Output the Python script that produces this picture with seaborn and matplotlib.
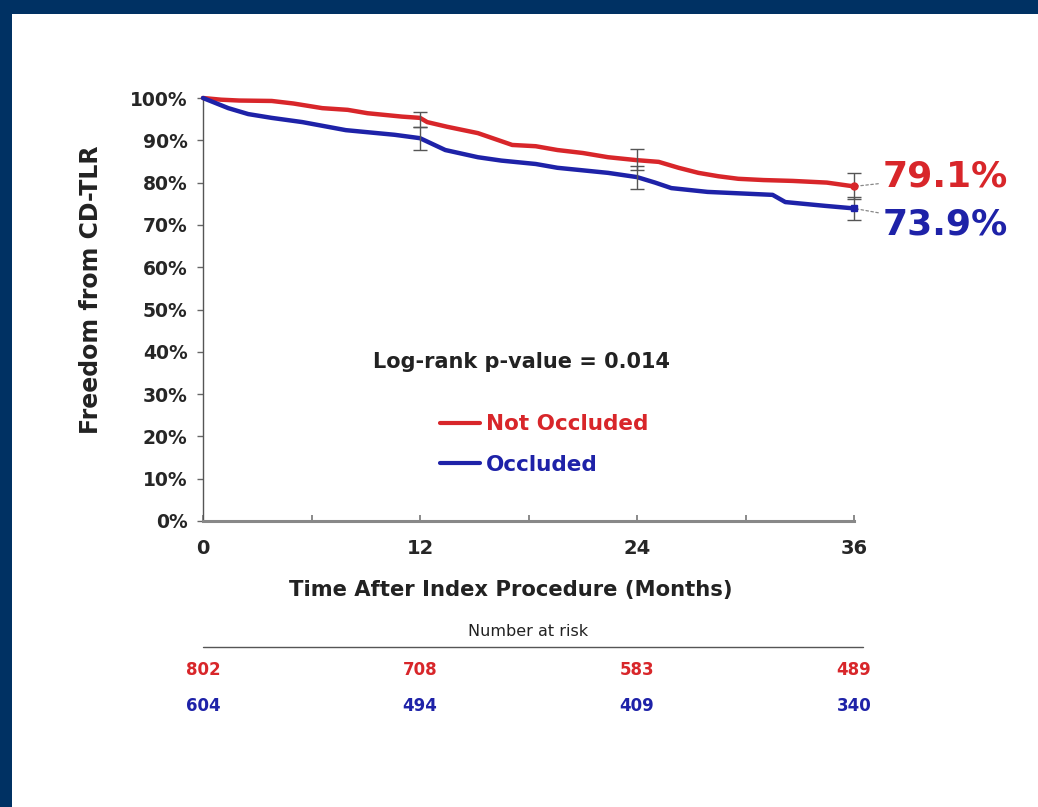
import matplotlib
matplotlib.use("Agg")
import matplotlib.pyplot as plt
from matplotlib.patches import Rectangle
from matplotlib.lines import Line2D
import numpy as np
import pandas as pd
import seaborn as sns

# Kaplan-Meier freedom from CD-TLR (%), by occlusion status
months_not_occluded = [0, 1, 2, 3.8, 5, 6.6, 8, 9.1, 11, 12, 12.4, 13.5, 15.2, 17.1,
                       18.4, 19.6, 21, 22.4, 24, 25.2, 26.3, 27.4, 28.5, 29.6, 31,
                       32.6, 34.5, 36]
surv_not_occluded = [100, 99.6, 99.4, 99.3, 98.7, 97.6, 97.2, 96.4, 95.6, 95.3, 94.3,
                     93.2, 91.7, 88.9, 88.6, 87.7, 87.0, 86.0, 85.3, 84.9, 83.5, 82.3,
                     81.5, 80.9, 80.6, 80.4, 80.0, 79.1]
months_occluded = [0, 1.4, 2.5, 3.8, 5.5, 7.9, 10.6, 12, 13.4, 15.2, 16.5, 18.4, 19.6,
                   22.4, 24, 25, 25.9, 27.9, 31.5, 32.2, 34.4, 36]
surv_occluded = [100, 97.6, 96.2, 95.3, 94.3, 92.4, 91.3, 90.5, 87.7, 86.0, 85.2, 84.4,
                 83.5, 82.3, 81.3, 80.0, 78.7, 77.8, 77.1, 75.4, 74.5, 73.9]

# 95% confidence intervals at the landmark times
ci_months = [12, 24, 36]
ci_not_occluded_lo = [93.2, 83.0, 76.2]
ci_not_occluded_hi = [96.7, 87.9, 82.2]
ci_occluded_lo = [87.7, 78.5, 71.1]
ci_occluded_hi = [93.2, 84.0, 76.7]

groups = ["Not Occluded", "Occluded"]
risk_months = [0, 12, 24, 36]
risk_not_occluded = [802, 708, 583, 489]
risk_occluded = [604, 494, 409, 340]

RED = "#d8262a"
BLUE = "#1e22a8"
NAVY = "#003163"

sns.set_theme(style="white")
plt.rcParams["font.family"] = ["DejaVu Sans"]

df = pd.concat([
    pd.DataFrame({"Month": months_not_occluded, "Surv": surv_not_occluded, "Group": groups[0]}),
    pd.DataFrame({"Month": months_occluded, "Surv": surv_occluded, "Group": groups[1]}),
])

fig = plt.figure(figsize=(10.38, 8.07), dpi=100)
fig.patch.set_facecolor("white")
# navy frame along the top and left edges
fig.patches.append(Rectangle((0, 1 - 14 / 807), 1, 14 / 807, transform=fig.transFigure,
                             facecolor=NAVY, edgecolor="none", zorder=0))
fig.patches.append(Rectangle((0, 0), 12 / 1038, 1, transform=fig.transFigure,
                             facecolor=NAVY, edgecolor="none", zorder=0))

ax = fig.add_axes([203 / 1038, 1 - 521 / 807, 651 / 1038, 423 / 807])
ax.set_facecolor("white")

sns.lineplot(data=df, x="Month", y="Surv", hue="Group", palette=[RED, BLUE],
             linewidth=3.2, ax=ax, legend=False, clip_on=False, zorder=3)

# confidence interval bars
for lo, hi in [(ci_not_occluded_lo, ci_not_occluded_hi), (ci_occluded_lo, ci_occluded_hi)]:
    mid = (np.array(lo) + np.array(hi)) / 2
    err = (np.array(hi) - np.array(lo)) / 2
    ax.errorbar(ci_months, mid, yerr=err, fmt="none", ecolor="#555555",
                elinewidth=1.0, capsize=5, capthick=1.0, zorder=4, clip_on=False)

# end-point markers
ax.plot([months_not_occluded[-1]], [surv_not_occluded[-1]], "o", color=RED, ms=5, zorder=5, clip_on=False)
ax.plot([months_occluded[-1]], [surv_occluded[-1]], "s", color=BLUE, ms=5, zorder=5, clip_on=False)

# end-point value labels with dashed leaders
for m, s, ty, col in [(months_not_occluded[-1], surv_not_occluded[-1], 81.5, RED),
                      (months_occluded[-1], surv_occluded[-1], 70.0, BLUE)]:
    ax.annotate(f"{s:.1f}%", xy=(m, s), xytext=(37.6, ty), textcoords="data",
                color=col, fontsize=26, fontweight="bold", va="center", ha="left",
                annotation_clip=False,
                arrowprops=dict(arrowstyle="-", linestyle=(0, (2, 2)), color="#888888",
                                lw=0.9, shrinkA=1, shrinkB=2))

ax.set_xlim(0, 36)
ax.set_ylim(0, 100)
ax.set_xticks([0, 12, 24, 36])
ax.set_xticks([6, 18, 30], minor=True)
ax.set_yticks(np.arange(0, 101, 10))
ax.set_yticklabels([f"{v}%" for v in range(0, 101, 10)])

for lab in ax.get_xticklabels() + ax.get_yticklabels():
    lab.set_fontweight("bold")
ax.tick_params(axis="y", which="major", direction="out", length=4, width=1,
               color="#666666", labelsize=13.5, pad=7, left=True)
ax.tick_params(axis="x", which="both", direction="in", length=4, width=1.2,
               color="#777777", labelsize=14, pad=13, bottom=True)

for side in ["top", "right"]:
    ax.spines[side].set_visible(False)
ax.spines["left"].set_color("#555555")
ax.spines["left"].set_linewidth(1.0)
ax.spines["bottom"].set_color("#888888")
ax.spines["bottom"].set_linewidth(2.2)

ax.set_xlabel("Time After Index Procedure (Months)", fontsize=15.2, fontweight="bold", color="#222222")
ax.xaxis.set_label_coords(0.473, -0.14)
ax.set_ylabel("Freedom from CD-TLR", fontsize=17, fontweight="bold", color="#222222")
ax.yaxis.set_label_coords(-0.153, 0.546)

ax.text(17.6, 37.6, "Log-rank p-value = 0.014", fontsize=15, fontweight="bold",
        color="#222222", ha="center", va="center")

handles = [Line2D([0], [0], color=RED, lw=3), Line2D([0], [0], color=BLUE, lw=3)]
leg = ax.legend(handles, groups, loc="upper left", bbox_to_anchor=(0.364, 0.252),
                frameon=False, borderpad=0, borderaxespad=0, handlelength=1.85,
                handletextpad=0.3, labelspacing=0.95,
                prop={"size": 15.5, "weight": "bold"})
for txt, col in zip(leg.get_texts(), [RED, BLUE]):
    txt.set_color(col)

# number-at-risk table below the axis
tr = ax.get_xaxis_transform()
ax.text(18, -0.262, "Number at risk", transform=tr, fontsize=11.5, color="#222222",
        ha="center", va="center")
ax.plot([0, 36.5], [-0.298, -0.298], transform=tr, color="#555555", lw=1, clip_on=False)
for m, a, b in zip(risk_months, risk_not_occluded, risk_occluded):
    ax.text(m, -0.352, str(a), transform=tr, fontsize=12, fontweight="bold",
            color=RED, ha="center", va="center")
    ax.text(m, -0.437, str(b), transform=tr, fontsize=12, fontweight="bold",
            color=BLUE, ha="center", va="center")

fig.savefig("out.png", dpi=100, facecolor="white")
